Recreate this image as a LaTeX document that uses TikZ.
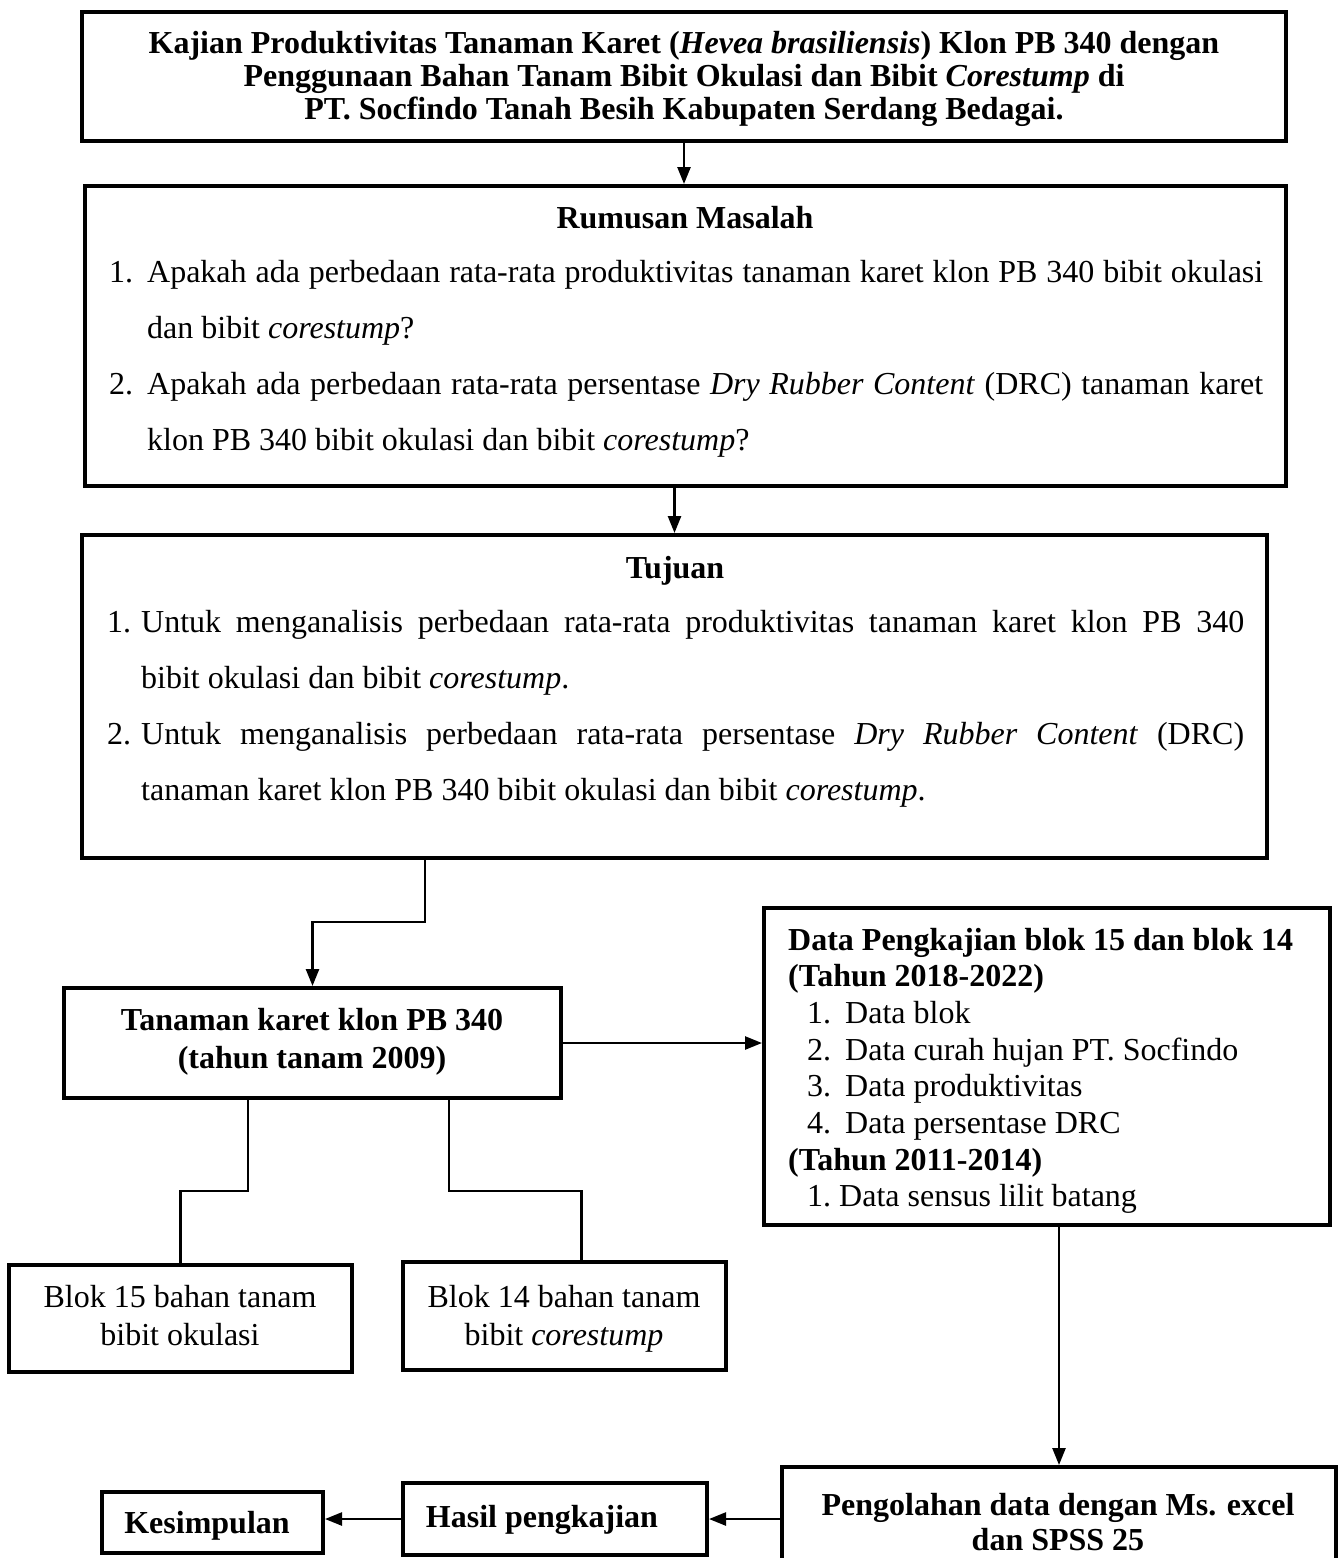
\documentclass[tikz,border=0pt]{standalone}
\usepackage{fontspec}
\setmainfont{Liberation Serif}
\usetikzlibrary{arrows.meta,fit}

\newcommand{\numitem}[2]{\noindent\hangindent=#1\hangafter=1\makebox[#1][l]{#2}}

\begin{document}
\begin{tikzpicture}[x=1pt,y=-1pt,
	box/.style={draw,line width=4pt,inner sep=0pt},
	conn/.style={line width=2.5pt},
	arr/.style={conn,-{Triangle[length=17pt,width=13pt]}},
	txt/.style={inner sep=0pt,anchor=base,align=flush center,font=\fontsize{32}{38}\selectfont},
	bold/.style={txt,font=\fontsize{32}{38}\selectfont\bfseries},
	list/.style={inner sep=0pt,anchor=base west,align=justify,font=\fontsize{32}{56}\selectfont}]
	\useasboundingbox (0,0) rectangle (1338,1558);
	
	\node[box,fit={(82,12) (1286,141)}] (judul) {};
	\node[bold,text width=1180pt,font=\fontsize{32}{33}\selectfont\bfseries] (judulT) at (684,53)
		{Kajian Produktivitas Tanaman Karet (\textit{Hevea brasiliensis}) Klon PB 340 dengan\\
		Penggunaan Bahan Tanam Bibit Okulasi dan Bibit \textit{Corestump} di\\
		PT. Socfindo Tanah Besih Kabupaten Serdang Bedagai.};
	
	\node[box,fit={(85,186) (1286,486)}] (rumusan) {};
	\node[bold] (rumusanT) at (685,228) {Rumusan Masalah};
	\node[list,text width=1154pt] (rumusanL) at (109,282)
		{\numitem{38pt}{1.}Apakah ada perbedaan rata-rata produktivitas tanaman karet klon PB 340 bibit okulasi\linebreak
		dan bibit \textit{corestump}?\par
		\numitem{38pt}{2.}Apakah ada perbedaan rata-rata persentase \textit{Dry Rubber Content} (DRC) tanaman karet\linebreak
		klon PB 340 bibit okulasi dan bibit \textit{corestump}?\par};
	
	\node[box,fit={(82,535) (1267,858)}] (tujuan) {};
	\node[bold] (tujuanT) at (675,578) {Tujuan};
	\node[list,text width=1137pt] (tujuanL) at (107,632)
		{\numitem{34pt}{1.}Untuk menganalisis perbedaan rata-rata produktivitas tanaman karet klon PB 340\linebreak
		bibit okulasi dan bibit \textit{corestump}.\par
		\numitem{34pt}{2.}Untuk menganalisis perbedaan rata-rata persentase \textit{Dry Rubber Content} (DRC)\linebreak
		tanaman karet klon PB 340 bibit okulasi dan bibit \textit{corestump}.\par};
	
	\node[box,fit={(64,988) (561,1098)}] (tanaman) {};
	\node[bold,text width=480pt] (tanamanT) at (312,1030) {Tanaman karet klon PB 340\\(tahun tanam 2009)};
	
	\node[box,fit={(764,908) (1330,1225)}] (data) {};
	\node[txt,anchor=base west,align=flush left,text width=540pt,font=\fontsize{32}{36.7}\selectfont] (dataT) at (788,950)
		{{\bfseries Data Pengkajian blok 15 dan blok 14}\\
		{\bfseries (Tahun 2018-2022)}\\
		\hspace*{19pt}\makebox[38pt][l]{1.}Data blok\\
		\hspace*{19pt}\makebox[38pt][l]{2.}Data curah hujan PT. Socfindo\\
		\hspace*{19pt}\makebox[38pt][l]{3.}Data produktivitas\\
		\hspace*{19pt}\makebox[38pt][l]{4.}Data persentase DRC\\
		{\bfseries (Tahun 2011-2014)}\\
		\hspace*{19pt}\makebox[32pt][l]{1.}Data sensus lilit batang};
	
	\node[box,fit={(9,1265) (352,1372)}] (blok15) {};
	\node[txt,text width=330pt] (blok15T) at (180,1307) {Blok 15 bahan tanam\\bibit okulasi};
	\node[box,fit={(403,1262) (726,1370)}] (blok14) {};
	\node[txt,text width=310pt] (blok14T) at (564,1307) {Blok 14 bahan tanam\\bibit \textit{corestump}};
	
	\node[box,fit={(782,1467) (1336,1590)}] (olah) {};
	\node[bold,text width=540pt,font=\fontsize{32}{35}\selectfont\bfseries] (olahT) at (1058,1515)
		{Pengolahan data dengan Ms. excel\\dan SPSS 25};
	\node[box,fit={(403,1483) (707,1555)}] (hasil) {};
	\node[bold] (hasilT) at (542,1527) {Hasil pengkajian};
	\node[box,fit={(102,1492) (323,1553)}] (simpul) {};
	\node[bold] (simpulT) at (207,1533) {Kesimpulan};
	
	\draw[arr] (judul.south) -- (judul.south |- rumusan.north);
	\draw[arr] (rumusan.south -| tujuan.north) -- (tujuan.north);
	\draw[arr] (425,0 |- tujuan.south) -- ++(0,62) -| (tanaman.north);
	\draw[arr] (tanaman.east) -- (tanaman.east -| data.west);
	\draw[conn] (248,0 |- tanaman.south) -- ++(0,91) -| (blok15.north);
	\draw[conn] (449,0 |- tanaman.south) -- ++(0,91) -| ([xshift=17pt]blok14.north);
	\draw[arr] (olah.north |- data.south) -- (olah.north);
	\draw[arr] (olah.west |- hasil.east) -- (hasil.east);
	\draw[arr] (hasil.west) -- (hasil.west -| simpul.east);
\end{tikzpicture}
\end{document}
